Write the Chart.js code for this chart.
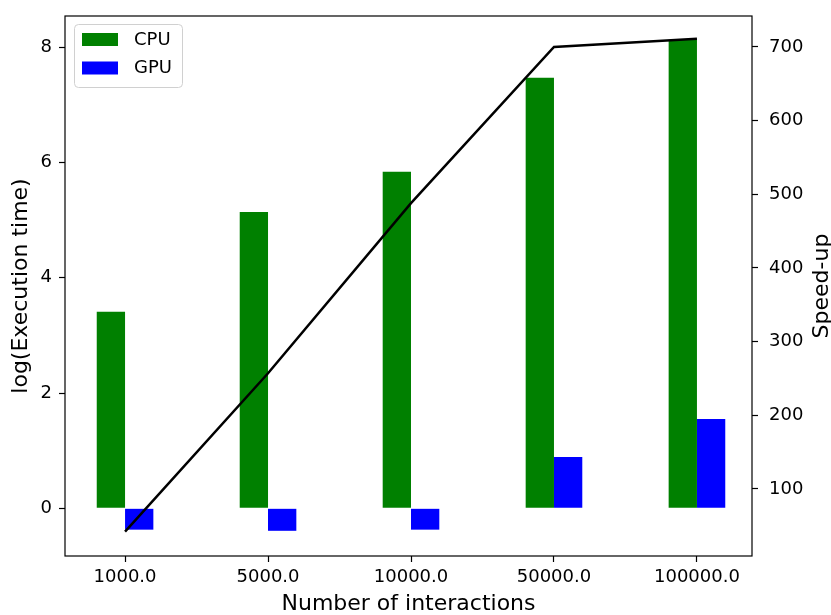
<!DOCTYPE html>
<html>
<head>
<meta charset="utf-8">
<script src="https://cdn.jsdelivr.net/npm/chart.js@4.4.1/dist/chart.umd.min.js"></script>
<style>
  html, body { margin: 0; padding: 0; background: #fff; }
  canvas { display: block; }
</style>
</head>
<body>
<canvas id="chart" width="831" height="615"></canvas>
<script>
// data
const categories = ["1000.0", "5000.0", "10000.0", "50000.0", "100000.0"];
const cpuTimes = [3.41, 5.14, 5.84, 7.47, 8.13];
const gpuTimes = [-0.37, -0.39, -0.37, 0.89, 1.55];
const speedUp = [42, 257, 488, 700, 711];
const leftTicks = [0, 2, 4, 6, 8];
const rightTicks = [100, 200, 300, 400, 500, 600, 700];

const FONT = "'DejaVu Sans', sans-serif";
const tickFont = { family: FONT, size: 18 };

const toPoints = (arr) => arr.map((v, i) => ({ x: i, y: v }));

// frame around the plot (matplotlib spines)
const framePlugin = {
    id: "frame",
    afterDraw(chart) {
        const { ctx, chartArea: a } = chart;
        ctx.save();
        ctx.strokeStyle = "#000";
        ctx.lineWidth = 1.2;
        ctx.strokeRect(a.left, a.top, a.right - a.left, a.bottom - a.top);
        ctx.restore();
    },
};

// legend box inside the plot, top-left
const legendPlugin = {
    id: "boxLegend",
    afterDraw(chart) {
        const { ctx, chartArea: a } = chart;
        const items = chart.data.datasets.filter((d) => d.type !== "line");
        const x = a.left + 9, y = a.top + 8;
        const w = 108, h = 63;
        ctx.save();
        ctx.beginPath();
        ctx.roundRect(x + 0.5, y + 0.5, w, h, 4);
        ctx.fillStyle = "rgba(255,255,255,0.8)";
        ctx.fill();
        ctx.strokeStyle = "#d0d0d0";
        ctx.lineWidth = 1;
        ctx.stroke();
        ctx.font = "18px " + FONT;
        ctx.textBaseline = "middle";
        ctx.textAlign = "left";
        items.forEach((d, i) => {
            const rowY = y + 9 + i * 28.5;
            ctx.fillStyle = d.backgroundColor;
            ctx.fillRect(x + 8, rowY, 36, 13);
            ctx.fillStyle = "#000";
            ctx.fillText(d.label, x + 60, rowY + 7);
        });
        ctx.restore();
    },
};

// right axis title, reading bottom to top like matplotlib
const rightTitlePlugin = {
    id: "rightTitle",
    afterDraw(chart) {
        const { ctx, chartArea: a } = chart;
        const text = chart.options.scales.y1.title.text;
        ctx.save();
        ctx.translate(822, (a.top + a.bottom) / 2);
        ctx.rotate(-Math.PI / 2);
        ctx.font = "22px " + FONT;
        ctx.fillStyle = "#000";
        ctx.textAlign = "center";
        ctx.textBaseline = "middle";
        ctx.fillText(text, 0, 0);
        ctx.restore();
    },
};

const tickGrid = {
    display: true,
    drawOnChartArea: false,
    drawTicks: true,
    tickLength: 6,
    tickWidth: 1.2,
    tickColor: "#000",
    offset: false,
};

// fixed axis box sizes, no extra label overhang padding
const fixWidth = (w) => (axis) => {
    axis.width = w;
    axis.paddingTop = 0;
    axis.paddingBottom = 0;
};

new Chart(document.getElementById("chart"), {
    type: "bar",
    data: {
        datasets: [
            {
                type: "line",
                label: "Speed-up",
                data: toPoints(speedUp),
                yAxisID: "y1",
                borderColor: "#000",
                borderWidth: 2.5,
                pointRadius: 0,
                tension: 0,
                fill: false,
                order: 0,
            },
            {
                label: "CPU",
                data: toPoints(cpuTimes),
                backgroundColor: "#008000",
                yAxisID: "y",
                borderWidth: 0,
                order: 1,
            },
            {
                label: "GPU",
                data: toPoints(gpuTimes),
                backgroundColor: "#0000ff",
                yAxisID: "y",
                borderWidth: 0,
                order: 2,
            },
        ],
    },
    options: {
        responsive: false,
        animation: false,
        devicePixelRatio: 1,
        categoryPercentage: 0.396,
        barPercentage: 1.0,
        layout: { padding: { top: 16, left: 0, right: 0, bottom: 0 } },
        plugins: {
            legend: { display: false },
            tooltip: { enabled: false },
        },
        scales: {
            x: {
                type: "linear",
                min: -0.42,
                max: 4.385,
                offset: false,
                grid: tickGrid,
                border: { display: false },
                afterBuildTicks: (axis) => {
                    axis.ticks = categories.map((c, i) => ({ value: i }));
                },
                afterFit: (axis) => {
                    axis.height = 59;
                    axis.paddingLeft = 0;
                    axis.paddingRight = 0;
                },
                ticks: {
                    font: tickFont,
                    color: "#000",
                    padding: 5,
                    maxRotation: 0,
                    autoSkip: false,
                    callback: (v) => categories[v],
                },
                title: {
                    display: true,
                    text: "Number of interactions",
                    font: { family: FONT, size: 22, lineHeight: 1 },
                    color: "#000",
                    padding: { top: 0, bottom: 0 },
                },
            },
            y: {
                type: "linear",
                position: "left",
                min: -0.827,
                max: 8.54,
                grid: tickGrid,
                border: { display: false },
                afterBuildTicks: (axis) => {
                    axis.ticks = leftTicks.map((v) => ({ value: v }));
                },
                afterFit: fixWidth(65),
                ticks: { font: tickFont, color: "#000", padding: 7 },
                title: {
                    display: true,
                    text: "log(Execution time)",
                    font: { family: FONT, size: 22, lineHeight: 1 },
                    color: "#000",
                    padding: { top: 10, bottom: 0 },
                },
            },
            y1: {
                type: "linear",
                position: "right",
                min: 9,
                max: 742,
                grid: tickGrid,
                border: { display: false },
                afterBuildTicks: (axis) => {
                    axis.ticks = rightTicks.map((v) => ({ value: v }));
                },
                afterFit: fixWidth(79),
                ticks: { font: tickFont, color: "#000", padding: 11 },
                title: { display: false, text: "Speed-up" },
            },
        },
    },
    plugins: [framePlugin, legendPlugin, rightTitlePlugin],
});
</script>
</body>
</html>
